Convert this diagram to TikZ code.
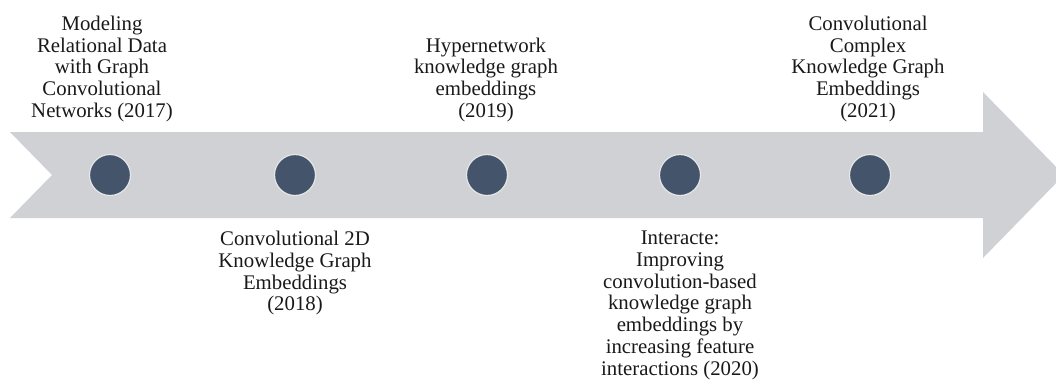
\documentclass[tikz,border=0pt]{standalone}
\usepackage{fontspec}
\setmainfont{Liberation Serif}
\definecolor{band}{HTML}{D0D1D4}
\definecolor{dot}{HTML}{44546A}
\definecolor{ring}{HTML}{E6E7E9}
\begin{document}
\begin{tikzpicture}[x=1pt,y=-1pt,
  milestone/.style={circle,minimum size=41pt,inner sep=0pt,fill=dot,draw=ring,line width=1.2pt},
  lbl/.style={align=center,inner sep=0pt,font=\fontsize{20.8}{21.7}\selectfont,text=black!90}]
\useasboundingbox (0,0) rectangle (1056,381);
% arrow band
\fill[band] (10,132) -- (983,132) -- (983,92) -- (1064,175) -- (983,258) -- (983,218) -- (10,218) -- (52,175) -- cycle;
% milestones
\node[milestone] (m1) at (110,175) {};
\node[milestone] (m2) at (295,175) {};
\node[milestone] (m3) at (487,175) {};
\node[milestone] (m4) at (680,175) {};
\node[milestone] (m5) at (870,175) {};
% labels
\node[lbl,anchor=south] (t1) at (102,122) {Modeling\\Relational Data\\with Graph\\Convolutional\\Networks (2017)};
\node[lbl,anchor=north] (t2) at (295,231) {Convolutional 2D\\Knowledge Graph\\Embeddings\\(2018)};
\node[lbl,anchor=south] (t3) at (486,122) {Hypernetwork\\knowledge graph\\embeddings\\(2019)};
\node[lbl,anchor=north] (t4) at (680,231) {Interacte:\\Improving\\convolution-based\\knowledge graph\\embeddings by\\increasing feature\\interactions (2020)};
\node[lbl,anchor=south] (t5) at (868,122) {Convolutional\\Complex\\Knowledge Graph\\Embeddings\\(2021)};
\end{tikzpicture}
\end{document}
